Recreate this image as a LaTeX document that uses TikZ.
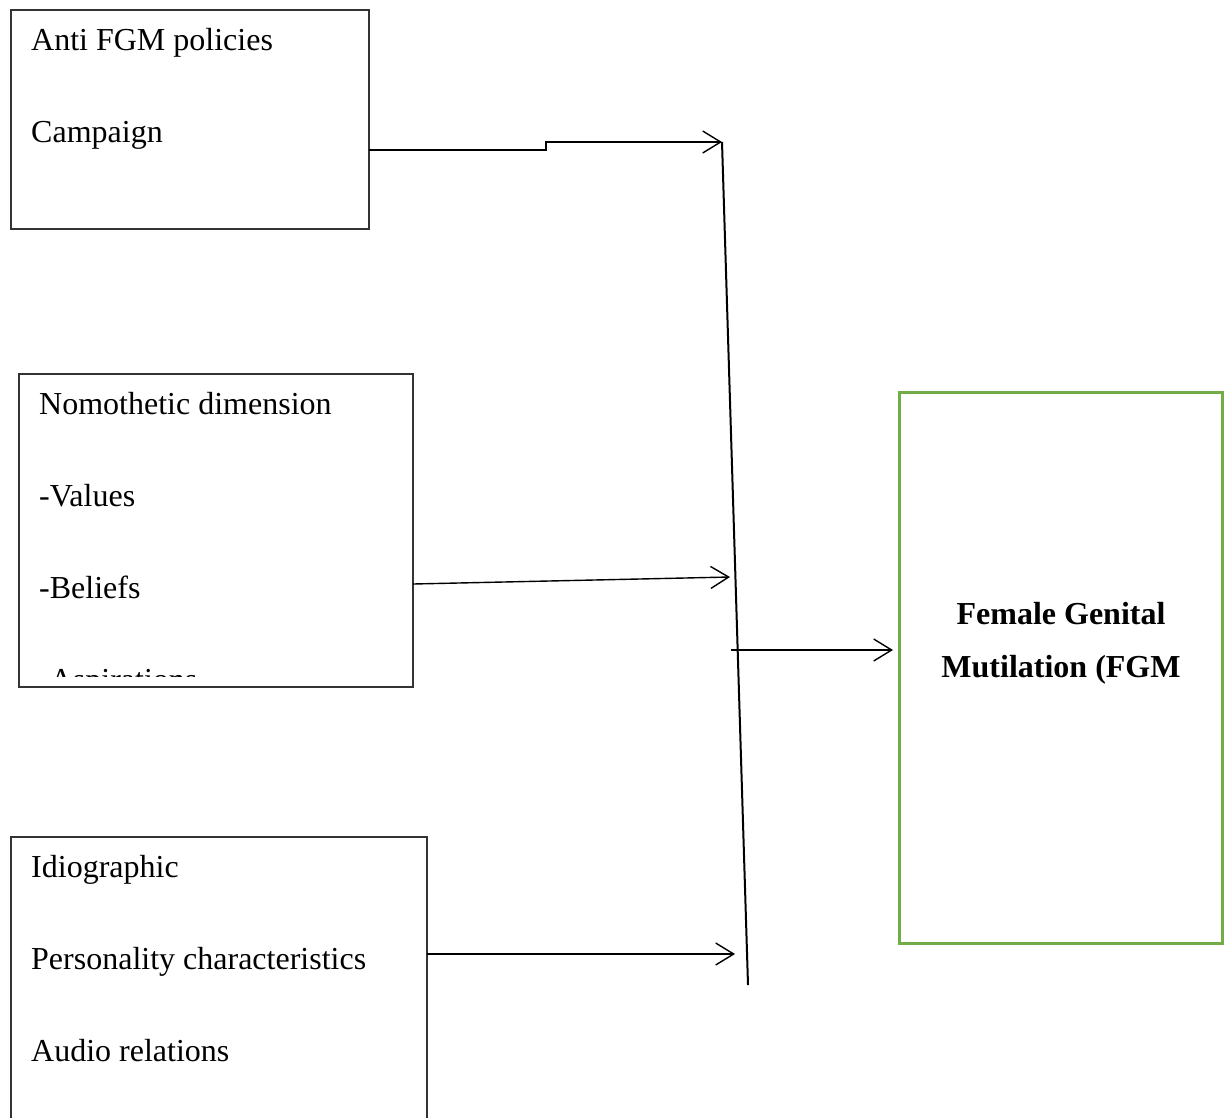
\documentclass[tikz,border=0pt]{standalone}
\usepackage{fontspec}
\setmainfont{Liberation Serif}
\usetikzlibrary{arrows.meta}
\definecolor{fgmgreen}{RGB}{112,173,71}
\begin{document}
\begin{tikzpicture}[x=1pt,y=-1pt,
  box/.style={draw=black!80, line width=1.5pt, inner sep=0pt, outer sep=0pt, anchor=north west},
  txt/.style={anchor=base west, inner sep=0pt, font=\fontsize{32}{38}\selectfont},
  btxt/.style={anchor=base, inner sep=0pt, font=\fontsize{32}{38}\selectfont\bfseries},
  conn/.style={line width=1.4pt, -{Straight Barb[length=18pt,width=22pt,line width=1.4pt]}},
  spine/.style={line width=2pt},
]
\useasboundingbox (0,0) rectangle (1230,1117);
\clip (0,0) rectangle (1230,1117);

% boxes
\node[box, minimum width=358pt, minimum height=219pt] (b1) at (11,10) {};
\node[box, minimum width=394pt, minimum height=313pt] (b2) at (19,374) {};
\node[box, minimum width=416pt, minimum height=320pt] (b3) at (11,837) {};
\node[box, draw=fgmgreen, line width=3pt, minimum width=323pt, minimum height=551pt] (g) at (899,392) {};

% texts
\node[txt] (t11) at (31,50) {Anti FGM policies};
\node[txt] (t12) at (31,142) {Campaign};
\node[txt] (t21) at (39,414) {Nomothetic dimension};
\node[txt] (t22) at (39,506) {-Values};
\node[txt] (t23) at (39,598) {-Beliefs};
\begin{scope}
  \clip (19,374) rectangle (413,676);
  \node[txt] (t24) at (39,690) {-Aspirations};
\end{scope}
\node[txt] (t31) at (31,877) {Idiographic};
\node[txt] (t32) at (31,969) {Personality characteristics};
\node[txt] (t33) at (31,1061) {Audio relations};
\node[btxt] (g1) at (1061,624) {Female Genital};
\node[btxt] (g2) at (1061,677) {Mutilation (FGM};

% spine
\coordinate (s1) at (722,142);
\coordinate (s2) at (748,985);
\draw[spine] (s1) -- (s2);

% connectors
\draw[conn] ([yshift=-140pt]b1.north east) -- ++(177,0) -- ++(0,-8) -- (s1);
\coordinate (t2) at (730,577);
\draw[conn] ([yshift=-210pt]b2.north east) -- (t2);
\coordinate (j) at (731,650);
\draw[conn] (j) -- ([xshift=-6pt,yshift=17.5pt]g.west);
\coordinate (t4) at (735,954);
\draw[conn] ([yshift=-117pt]b3.north east) -- (t4);
\end{tikzpicture}
\end{document}
